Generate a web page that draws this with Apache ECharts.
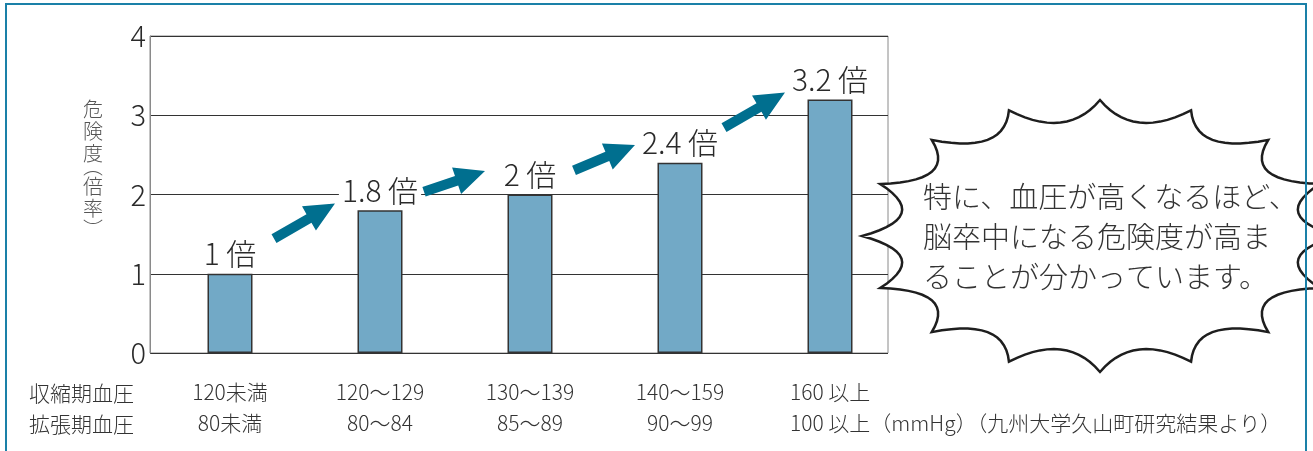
<!DOCTYPE html>
<html>
<head>
<meta charset="utf-8">
<script src="https://cdn.jsdelivr.net/npm/echarts@6/dist/echarts.min.js"></script>
<style>
html,body{margin:0;padding:0;background:#fff;}
#c{width:1313px;height:451px;}
</style>
</head>
<body>
<div id="c"></div>
<script>
// ---- data ----
const categories = [
  ['120未満', '80未満'],
  ['120～129', '80～84'],
  ['130～139', '85～89'],
  ['140～159', '90～99'],
  ['160 以上', '100 以上（mmHg）（九州大学久山町研究結果より）']
];
const riskValues = [1, 1.8, 2, 2.4, 3.2];
const yTicks = [0, 1, 2, 3, 4];
const rowHeaders = ['収縮期血圧', '拡張期血圧'];
const yAxisName = '危険度（倍率）';
const bubbleLines = ['特に、血圧が高くなるほど、', '脳卒中になる危険度が高ま', 'ることが分かっています。'];

const FONT = '"Noto Sans CJK JP", "Noto Sans", sans-serif';
const TXT = '#2a2a2a';

function burstPoints(cx, cy, rx, ry, n, k) {
  const pts = [];
  const steps = 14;
  for (let i = 0; i < n; i++) {
    const a0 = -Math.PI / 2 + i * 2 * Math.PI / n;
    const a1 = a0 + 2 * Math.PI / n;
    const am = (a0 + a1) / 2;
    const p0 = [cx + rx * Math.cos(a0), cy + ry * Math.sin(a0)];
    const p1 = [cx + rx * Math.cos(a1), cy + ry * Math.sin(a1)];
    const c = [cx + k * rx * Math.cos(am), cy + k * ry * Math.sin(am)];
    for (let s = 0; s < steps; s++) {
      const t = s / steps, u = 1 - t;
      pts.push([
        u * u * p0[0] + 2 * u * t * c[0] + t * t * p1[0],
        u * u * p0[1] + 2 * u * t * c[1] + t * t * p1[1]
      ]);
    }
  }
  return pts;
}

const chart = echarts.init(document.getElementById('c'), null, {renderer: 'canvas'});

const arrowData = riskValues.slice(0, -1).map((v, i) => [i, v, riskValues[i + 1]]);

const nameRich = {
  c: {fontSize: 20, lineHeight: 22, color: '#555', fontFamily: FONT, fontWeight: 300},
  po: {fontSize: 20, lineHeight: 11, color: '#555', fontFamily: FONT, fontWeight: 300, padding: [0, 0, 8, 0]},
  pc: {fontSize: 20, lineHeight: 11, color: '#555', fontFamily: FONT, fontWeight: 300, padding: [8, 0, 0, 0]}
};
function verticalName(s) {
  const out = [];
  for (const ch of s) {
    if (ch === '（') out.push('{po|︵}');
    else if (ch === '）') out.push('{pc|︶}');
    else out.push('{c|' + ch + '}');
  }
  return out.join('\n');
}

const option = {
  animation: false,
  grid: [
    {left: 150, right: 425, top: 36, bottom: 98, show: true, borderColor: '#8a8a8a', borderWidth: 1, backgroundColor: 'transparent'},
    {left: 155, right: 408, top: 36, bottom: 98}
  ],
  xAxis: [
    {type: 'value', gridIndex: 0, min: 0, max: 1, show: false},
    {
      type: 'category', gridIndex: 1,
      data: categories.map(c => c.join('\n')),
      axisLine: {show: false}, axisTick: {show: false},
      axisLabel: {
        interval: 0, margin: 24, width: 80, overflow: 'none',
        fontFamily: FONT, fontSize: 21, lineHeight: 31, color: '#333', fontWeight: 300,
        formatter: function (val, idx) {
          const lines = val.split('\n');
          const tag = idx === categories.length - 1 ? 'l' : 'm';
          return lines.map(s => '{' + tag + '|' + s + '}').join('\n');
        },
        rich: {
          m: {align: 'center', fontFamily: FONT, fontSize: 21, lineHeight: 31, color: '#333', fontWeight: 300},
          l: {align: 'left', fontFamily: FONT, fontSize: 21, lineHeight: 31, color: '#333', fontWeight: 300}
        }
      }
    }
  ],
  yAxis: [
    {
      type: 'value', gridIndex: 0, min: yTicks[0], max: yTicks[yTicks.length - 1], interval: 1,
      name: verticalName(yAxisName), nameLocation: 'middle', nameRotate: 0, nameGap: 47,
      nameTextStyle: {rich: nameRich, padding: [0, 0, 60, 0]},
      axisLine: {show: true, lineStyle: {color: '#8a8a8a', width: 1}},
      axisTick: {show: false},
      splitLine: {show: true, lineStyle: {color: '#333', width: 1}},
      axisLabel: {margin: 4, fontFamily: FONT, fontSize: 29, color: TXT, fontWeight: 300,
        formatter: v => String(v)}
    },
    {type: 'value', gridIndex: 1, min: yTicks[0], max: yTicks[yTicks.length - 1], show: false}
  ],
  series: [
    {
      type: 'bar', xAxisIndex: 1, yAxisIndex: 1,
      data: riskValues, barWidth: 45,
      itemStyle: {color: '#72a9c6', borderColor: '#333', borderWidth: 1.5},
      label: {
        show: true, position: 'top', distance: 5,
        formatter: p => p.value + ' 倍',
        fontFamily: FONT, fontSize: 30, color: TXT, fontWeight: 300,
        backgroundColor: '#fff', padding: [0, 3, 0, 3]
      },
      z: 3
    },
    {
      type: 'custom', xAxisIndex: 1, yAxisIndex: 1,
      data: arrowData,
      z: 4, silent: true,
      renderItem: function (params, api) {
        const i = api.value(0);
        const a = api.coord([i, api.value(1)]);
        const b = api.coord([i + 1, api.value(2)]);
        const avg = (a[1] + b[1]) / 2;
        const pix = a[1] - b[1];
        const dy = 0.3 * pix + 16;
        const mid = avg - 21;
        const T = [a[0] + 44, mid + dy / 2];
        const P = [b[0] - 45, mid - dy / 2];
        const len = Math.hypot(P[0] - T[0], P[1] - T[1]);
        const d = [(P[0] - T[0]) / len, (P[1] - T[1]) / len];
        const n = [-d[1], d[0]];
        const hl = 30, hw = 14, sw = 5;
        const B = [P[0] - d[0] * hl, P[1] - d[1] * hl];
        const pt = (p, s) => [p[0] + n[0] * s, p[1] + n[1] * s];
        return {
          type: 'polygon',
          shape: {points: [pt(T, sw), pt(B, sw), pt(B, hw), P, pt(B, -hw), pt(B, -sw), pt(T, -sw)]},
          style: {fill: '#006f8f'}
        };
      }
    }
  ],
  graphic: [
    {
      type: 'text', left: 29, top: 378, z: 10,
      style: {text: rowHeaders.join('\n'), fontFamily: FONT, fontSize: 21, lineHeight: 31, fill: '#333', fontWeight: 300}
    },
    {
      type: 'polygon', z: 100,
      shape: {points: burstPoints(1100, 236, 238, 136, 16, 0.72)},
      style: {fill: '#fff', stroke: '#1e1e1e', lineWidth: 2.5, lineJoin: 'miter'}
    },
    {
      type: 'text', z: 101, x: 923, y: 237,
      style: {text: bubbleLines.join('\n'), fontFamily: FONT, fontSize: 29, lineHeight: 40, fill: '#333',
        fontWeight: 300, textAlign: 'left', textVerticalAlign: 'middle'}
    },
    {
      type: 'rect', z: 110, silent: true,
      shape: {x: 6, y: 4, width: 1300, height: 470},
      style: {fill: 'none', stroke: '#1a80a8', lineWidth: 2}
    }
  ]
};
chart.setOption(option);
</script>
</body>
</html>
